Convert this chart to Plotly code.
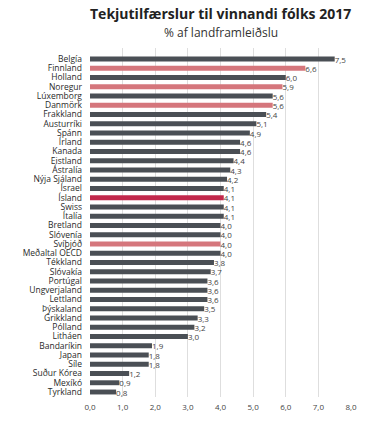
import plotly.graph_objects as go

countries = ["Belgía", "Finnland", "Holland", "Noregur", "Lúxemborg", "Danmörk", "Frakkland",
             "Austurríki", "Spánn", "Írland", "Kanada", "Eistland", "Ástralía", "Nýja Sjáland",
             "Ísrael", "Ísland", "Swiss", "Ítalía", "Bretland", "Slóvenía", "Svíþjóð",
             "Meðaltal OECD", "Tékkland", "Slóvakía", "Portúgal", "Ungverjaland", "Lettland",
             "Þýskaland", "Grikkland", "Pólland", "Litháen", "Bandaríkin", "Japan", "Síle",
             "Suður Kórea", "Mexíkó", "Tyrkland"]
values = [7.5, 6.6, 6.0, 5.9, 5.6, 5.6, 5.4, 5.1, 4.9, 4.6, 4.6, 4.4, 4.3, 4.2, 4.1, 4.1,
          4.1, 4.1, 4.0, 4.0, 4.0, 4.0, 3.8, 3.7, 3.6, 3.6, 3.6, 3.5, 3.3, 3.2, 3.0, 1.9,
          1.8, 1.8, 1.2, 0.9, 0.8]
nordic = ["Finnland", "Noregur", "Danmörk", "Svíþjóð"]
highlight = ["Ísland"]
x_ticks = [0, 1, 2, 3, 4, 5, 6, 7, 8]

DARK = "#4a4f55"
PINK = "#d5767c"
RED = "#c2284c"
colors = [RED if c in highlight else PINK if c in nordic else DARK for c in countries]
labels = [f"{v:.1f}".replace(".", ",") for v in values]

fig = go.Figure(go.Bar(
    x=values, y=countries, orientation="h",
    marker=dict(color=colors, line=dict(width=0)),
    text=labels, textposition="outside", cliponaxis=False, constraintext="none",
    textfont=dict(size=8, color="#444", family="Open Sans"),
    hoverinfo="skip",
))

fig.update_layout(
    width=390, height=422,
    margin=dict(l=90, r=39, t=48, b=25, autoexpand=False),
    paper_bgcolor="white", plot_bgcolor="white",
    bargap=0.47,
    showlegend=False,
    font=dict(family="Open Sans", color="#333"),
    annotations=[
        dict(text="<b>Tekjutilfærslur til vinnandi fólks 2017</b>", xref="paper", yref="paper",
             x=0.5, y=1, yanchor="middle", yshift=35, showarrow=False,
             font=dict(size=14, color="#222")),
        dict(text="% af landframleiðslu", xref="paper", yref="paper",
             x=0.5, y=1, yanchor="middle", yshift=16, showarrow=False,
             font=dict(size=12, color="#333")),
    ],
)
fig.update_xaxes(
    range=[0, 8], tickvals=x_ticks,
    ticktext=[f"{t:.1f}".replace(".", ",") for t in x_ticks],
    showgrid=True, gridcolor="#dedede", gridwidth=1, zeroline=False, automargin=False,
    showline=False, tickfont=dict(size=8, color="#444"), ticklabelstandoff=4,
)
fig.update_yaxes(
    categoryorder="array", categoryarray=countries,
    tickmode="array", tickvals=countries, ticktext=countries, automargin=False,
    range=[36.54, -1.19], showgrid=False, showline=False, zeroline=False,
    tickfont=dict(size=8.5, color="#2a2a2a", family="Open Sans"), ticklabelstandoff=7,
)

fig.write_html("out.html", config={"displayModeBar": False},
               post_script="document.body.style.margin='0';")
